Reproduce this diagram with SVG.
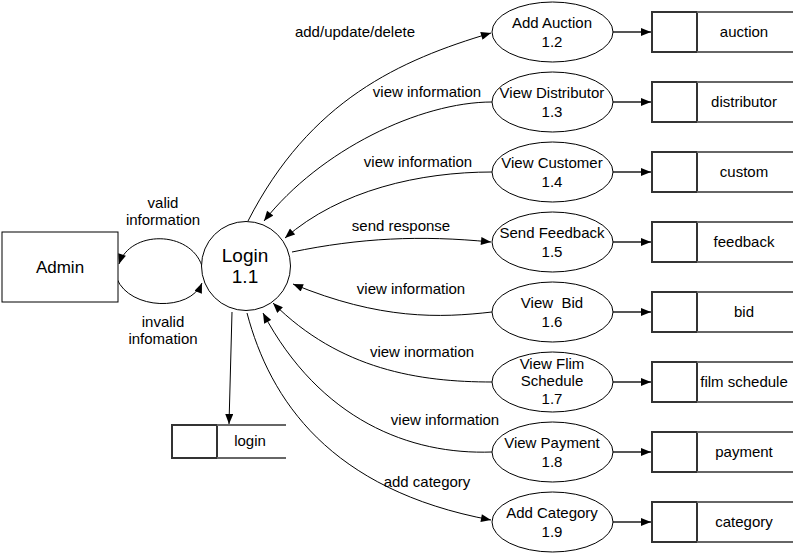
<svg xmlns="http://www.w3.org/2000/svg" width="794" height="555" viewBox="0 0 794 555">
<style>
text{font-family:"Liberation Sans",Arial,sans-serif;font-size:15px;fill:#000;text-anchor:middle}
.big{font-size:17px}
.login{font-size:19px}
.proc{fill:#fff;stroke:#000;stroke-width:1}
.flow{fill:none;stroke:#000;stroke-width:1;marker-end:url(#ah)}
.sflow{fill:none;stroke:#555;stroke-width:2;marker-end:url(#ah2)}
.sbox{fill:#fff;stroke:#333;stroke-width:2}
.sline{stroke:#666;stroke-width:2;fill:none}
</style>
<defs>
<marker id="ah" viewBox="0 0 10 8" refX="10" refY="4" markerWidth="11" markerHeight="8" markerUnits="userSpaceOnUse" orient="auto"><path d="M0,0 L10,4 L0,8 z" fill="#000"/></marker>
<marker id="ah2" viewBox="0 0 10 8" refX="10" refY="4" markerWidth="11" markerHeight="8" markerUnits="userSpaceOnUse" orient="auto"><path d="M0,0 L10,4 L0,8 z" fill="#000"/></marker>
</defs>
<rect width="794" height="555" fill="#fff"/>

<g id="connectors">
<path class="flow" d="M202 266 C190 230, 130 230, 119 264"/>
<path class="flow" d="M117 279 C130 310, 190 312, 202 283"/>
<path class="flow" d="M232 312 L229 424"/>
<path class="flow" d="M248 221 C310 100, 400 60, 491 33"/>
<path class="flow" d="M492 102 C420 102, 320 150, 264 221"/>
<path class="flow" d="M492 172 C420 172, 340 190, 285 238"/>
<path class="flow" d="M292 252 C360 238, 420 235, 491 242"/>
<path class="flow" d="M492 312 C440 318, 380 320, 293 284"/>
<path class="flow" d="M492 382 C420 382, 340 370, 273 303"/>
<path class="flow" d="M492 452 C410 455, 320 420, 263 313"/>
<path class="flow" d="M247 313 C270 400, 330 490, 491 520"/>
<path class="sflow" d="M613 32 L651 32"/>
<path class="sflow" d="M613 102 L651 102"/>
<path class="sflow" d="M613 172 L651 172"/>
<path class="sflow" d="M613 242 L651 242"/>
<path class="sflow" d="M613 312 L651 312"/>
<path class="sflow" d="M613 382 L651 382"/>
<path class="sflow" d="M613 452 L651 452"/>
<path class="sflow" d="M613 522 L651 522"/>
<text x="163" y="208">valid</text>
<text x="163" y="225">information</text>
<text x="163" y="327">invalid</text>
<text x="163" y="344">infomation</text>
<text x="355" y="37">add/update/delete</text>
<text x="427" y="97">view information</text>
<text x="418" y="167">view information</text>
<text x="401" y="231">send response</text>
<text x="411" y="294">view information</text>
<text x="422" y="357">view inormation</text>
<text x="445" y="425">view information</text>
<text x="427" y="487">add category</text>
</g>

<g id="admin">
<rect x="2" y="232" width="116" height="70" fill="#fff" stroke="#000" stroke-width="1"/>
<text class="big" x="60" y="273">Admin</text>
</g>

<g id="login">
<circle cx="246" cy="266" r="44.5" class="proc"/>
<text class="login" x="245" y="262">Login</text>
<text class="login" x="245" y="283">1.1</text>
</g>

<g id="store-login">
<rect x="172" y="425" width="45" height="33" class="sbox" stroke-width="1.5"/>
<path class="sline" stroke-width="1.5" d="M217 425 L286 425 M217 458 L286 458"/>
<text x="250" y="446">login</text>
</g>

<g id="p12"><ellipse cx="552.5" cy="32" rx="60.5" ry="30" class="proc"/><text x="552" y="28">Add Auction</text><text x="552" y="47">1.2</text></g>
<g id="p13"><ellipse cx="552.5" cy="102" rx="60.5" ry="30" class="proc"/><text x="552" y="98">View Distributor</text><text x="552" y="117">1.3</text></g>
<g id="p14"><ellipse cx="552.5" cy="172" rx="60.5" ry="30" class="proc"/><text x="552" y="168">View Customer</text><text x="552" y="187">1.4</text></g>
<g id="p15"><ellipse cx="552.5" cy="242" rx="60.5" ry="30" class="proc"/><text x="552" y="238">Send Feedback</text><text x="552" y="257">1.5</text></g>
<g id="p16"><ellipse cx="552.5" cy="312" rx="60.5" ry="30" class="proc"/><text x="552" y="308" xml:space="preserve">View  Bid</text><text x="552" y="327">1.6</text></g>
<g id="p17"><ellipse cx="552.5" cy="382" rx="60.5" ry="30" class="proc"/><text x="552" y="369">View Flim</text><text x="552" y="386">Schedule</text><text x="552" y="404">1.7</text></g>
<g id="p18"><ellipse cx="552.5" cy="452" rx="60.5" ry="30" class="proc"/><text x="552" y="448">View Payment</text><text x="552" y="467">1.8</text></g>
<g id="p19"><ellipse cx="552.5" cy="522" rx="60.5" ry="30" class="proc"/><text x="552" y="518">Add Category</text><text x="552" y="537">1.9</text></g>

<g id="s-auction"><rect x="652" y="12" width="45" height="40" class="sbox"/><path class="sline" d="M697 12 L793 12 M697 52 L793 52"/><text x="744" y="37">auction</text></g>
<g id="s-distributor"><rect x="652" y="82" width="45" height="40" class="sbox"/><path class="sline" d="M697 82 L793 82 M697 122 L793 122"/><text x="744" y="107">distributor</text></g>
<g id="s-custom"><rect x="652" y="152" width="45" height="40" class="sbox"/><path class="sline" d="M697 152 L793 152 M697 192 L793 192"/><text x="744" y="177">custom</text></g>
<g id="s-feedback"><rect x="652" y="222" width="45" height="40" class="sbox"/><path class="sline" d="M697 222 L793 222 M697 262 L793 262"/><text x="744" y="247">feedback</text></g>
<g id="s-bid"><rect x="652" y="292" width="45" height="40" class="sbox"/><path class="sline" d="M697 292 L793 292 M697 332 L793 332"/><text x="744" y="317">bid</text></g>
<g id="s-film"><rect x="652" y="362" width="45" height="40" class="sbox"/><path class="sline" d="M697 362 L793 362 M697 402 L793 402"/><text x="744" y="387">film schedule</text></g>
<g id="s-payment"><rect x="652" y="432" width="45" height="40" class="sbox"/><path class="sline" d="M697 432 L793 432 M697 472 L793 472"/><text x="744" y="457">payment</text></g>
<g id="s-category"><rect x="652" y="502" width="45" height="40" class="sbox"/><path class="sline" d="M697 502 L793 502 M697 542 L793 542"/><text x="744" y="527">category</text></g>
</svg>
